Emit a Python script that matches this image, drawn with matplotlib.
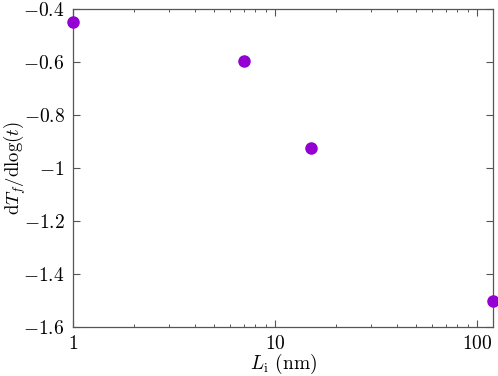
import matplotlib
matplotlib.use("Agg")
import matplotlib.pyplot as plt
from matplotlib.ticker import FixedLocator, FuncFormatter, LogLocator, NullFormatter

plt.rcParams['mathtext.fontset'] = 'cm'
plt.rcParams['font.family'] = 'serif'
plt.rcParams['font.serif'] = ['cmr10', 'DejaVu Serif']
plt.rcParams['axes.formatter.use_mathtext'] = True

# data
L_i = [1, 7, 15, 120]
slope = [-0.45, -0.595, -0.925, -1.5]
y_ticks = [-0.4, -0.6, -0.8, -1.0, -1.2, -1.4, -1.6]
x_ticks = [1, 10, 100]

fig = plt.figure(figsize=(4.98, 3.76), dpi=100)
ax = fig.add_axes([0.1466, 0.130, 0.8434, 0.846])

ax.plot(L_i, slope, 'o', color='#9400d3', markersize=8, clip_on=False, zorder=5)

ax.set_xscale('log')
ax.set_xlim(1, 120)
ax.set_ylim(-1.6, -0.4)

ax.xaxis.set_major_locator(FixedLocator(x_ticks))
ax.xaxis.set_minor_locator(LogLocator(base=10, subs=range(2, 10)))
ax.xaxis.set_major_formatter(FuncFormatter(lambda v, p: r'$%d$' % round(v)))
ax.xaxis.set_minor_formatter(NullFormatter())

def yfmt(v, p):
    return r'$%g$' % round(v, 2)

ax.yaxis.set_major_locator(FixedLocator(y_ticks))
ax.yaxis.set_major_formatter(FuncFormatter(yfmt))

for s in ax.spines.values():
    s.set_color('#555555')
    s.set_linewidth(0.9)
ax.tick_params(which='both', direction='in', top=True, right=True,
               color='#555555', labelsize=14, pad=6)
ax.tick_params(which='major', length=5, width=0.8)
ax.tick_params(which='minor', length=2.5, width=0.7)

ax.set_xlabel(r'$L_\mathrm{i}$ (nm)', fontsize=14, labelpad=-1)
ax.set_ylabel(r'$\mathrm{d}T_f/\mathrm{d}\log(t)$', fontsize=13.5)
ax.yaxis.set_label_coords(-0.108, 0.5)

fig.savefig('out.png', dpi=100)
